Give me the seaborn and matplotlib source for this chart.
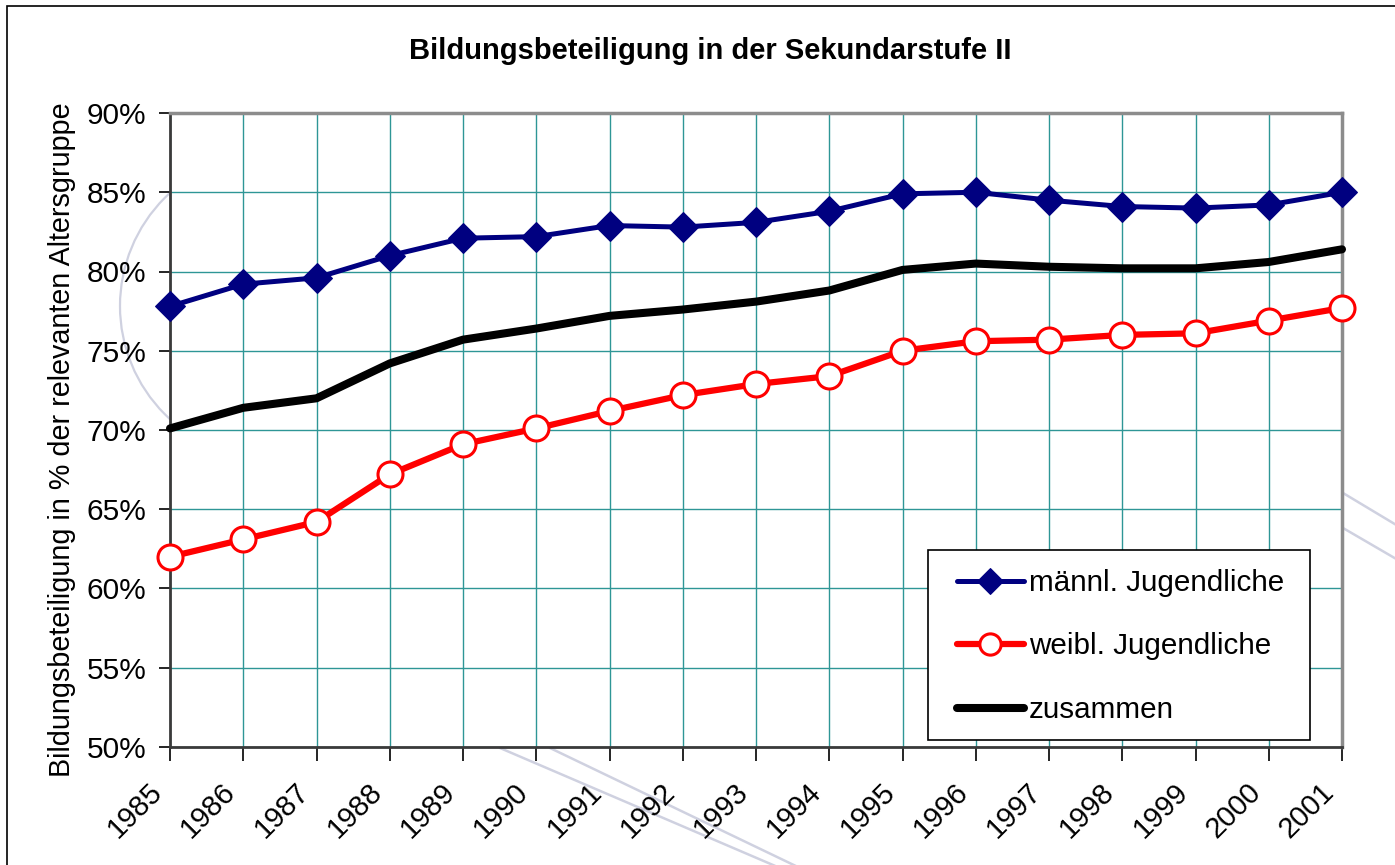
import pandas as pd
import matplotlib.pyplot as plt
import matplotlib.transforms as mtransforms
import seaborn as sns
from matplotlib.lines import Line2D
from matplotlib.patches import Arc, Rectangle
from matplotlib.ticker import FuncFormatter, MultipleLocator

years = list(range(1985, 2002))
maennlich = [77.8, 79.2, 79.6, 81.0, 82.1, 82.2, 82.9, 82.8, 83.1, 83.8, 84.9, 85.0, 84.5, 84.1, 84.0, 84.2, 85.0]
weiblich = [62.0, 63.1, 64.2, 67.2, 69.1, 70.1, 71.2, 72.2, 72.9, 73.4, 75.0, 75.6, 75.7, 76.0, 76.1, 76.9, 77.7]
zusammen = [70.1, 71.4, 72.0, 74.2, 75.7, 76.4, 77.2, 77.6, 78.1, 78.8, 80.1, 80.5, 80.3, 80.2, 80.2, 80.6, 81.4]

title = "Bildungsbeteiligung in der Sekundarstufe II"
ylabel = "Bildungsbeteiligung in % der relevanten Altersgruppe"

sns.set_theme(style="white")
plt.rcParams["font.family"] = ["Liberation Sans", "DejaVu Sans"]
for key in ["text.color", "axes.labelcolor", "xtick.color", "ytick.color"]:
    plt.rcParams[key] = "black"

fig = plt.figure(figsize=(13.95, 8.65), dpi=100)
H = 865

# faint watermark of the background logo (mostly hidden by the plot area)
wm = "#cfd1e0"
fig.patches.append(Arc((273, H - 306), 306, 306, angle=0, theta1=90, theta2=270,
                       transform=None, edgecolor=wm, linewidth=1.6, zorder=-2))
for (x0, y0), (x1, y1) in [((500, 748), (780, 868)), ((550, 748), (800, 868)),
                           ((1343, 493), (1398, 526)), ((1343, 528), (1398, 560))]:
    fig.lines.append(Line2D([x0, x1], [H - y0, H - y1], transform=None,
                            color=wm, linewidth=1.8, zorder=-2))
# figure frame
fig.patches.append(Rectangle((7, H - 900), 1420, 894, transform=None, fill=False,
                             edgecolor="black", linewidth=1.2, zorder=-1))

ax = fig.add_axes([170 / 1395, 1 - 747 / 865, (1342 - 170) / 1395, (747 - 113) / 865])
ax.set_facecolor("white")

df = pd.DataFrame({"Jahr": years, "m": maennlich, "w": weiblich, "z": zusammen})

sns.lineplot(data=df, x="Jahr", y="m", ax=ax, color="#000080", linewidth=3.6,
             marker="D", markersize=15, markeredgecolor="#000080",
             label="männl. Jugendliche", clip_on=False, zorder=5)
sns.lineplot(data=df, x="Jahr", y="w", ax=ax, color="#ff0000", linewidth=4.5,
             marker="o", markersize=18, markerfacecolor="white",
             markeredgecolor="#ff0000", markeredgewidth=2.2,
             label="weibl. Jugendliche", clip_on=False, zorder=5)
sns.lineplot(data=df, x="Jahr", y="z", ax=ax, color="black", linewidth=5.8,
             label="zusammen", clip_on=False, zorder=4, solid_capstyle="round")

ax.set_xlim(1985, 2001)
ax.set_ylim(50, 90)
ax.yaxis.set_major_locator(MultipleLocator(5))
ax.yaxis.set_major_formatter(FuncFormatter(lambda v, p: f"{v:.0f}%"))
ax.set_xticks(years)
ax.set_xticklabels([str(y) for y in years], rotation=45, ha="right", va="top",
                   rotation_mode="anchor", fontsize=21)
ax.tick_params(axis="y", labelsize=21.5, direction="out", length=8, width=1.2, left=True, pad=9)
ax.tick_params(axis="x", direction="out", length=10, width=1.2, bottom=True, pad=12)

ax.grid(True, color="#2e9696", linewidth=1)
ax.set_axisbelow(True)
for side in ["left", "bottom"]:
    ax.spines[side].set_color("#3a3a3a")
    ax.spines[side].set_linewidth(2)
for side in ["top", "right"]:
    ax.spines[side].set_color("#8c8c8c")
    ax.spines[side].set_linewidth(2.5)

ax.set_xlabel("")
ax.set_ylabel(ylabel, fontsize=20.7)
ax.yaxis.set_label_coords((76 - 170) / 1172, 0.5 - 10 / 634)
fig.text(710 / 1395, 1 - 51 / 865, title, ha="center", va="center",
         fontsize=21, fontweight="bold")

# legend box (white, covers the grid) and entries
ax.add_patch(Rectangle(((928 - 170) / 1172, 7 / 634), (1310 - 928) / 1172, 190 / 634,
                       transform=ax.transAxes, facecolor="white", edgecolor="black",
                       linewidth=1.2, zorder=6))
leg = ax.legend(loc="upper left", bbox_to_anchor=((957 - 170) / 1172, (747 - 569) / 634),
                fontsize=21.3, frameon=False, handlelength=2.26, handletextpad=0.17,
                labelspacing=1.2, borderpad=0, borderaxespad=0, markerscale=0.85)
leg.set_zorder(7)

# move the rotated year labels to the left, like the original
shift = mtransforms.ScaledTranslation(-22 / 100, 0, fig.dpi_scale_trans)
for lab in ax.get_xticklabels():
    lab.set_transform(lab.get_transform() + shift)

fig.savefig("out.png", dpi=100)
